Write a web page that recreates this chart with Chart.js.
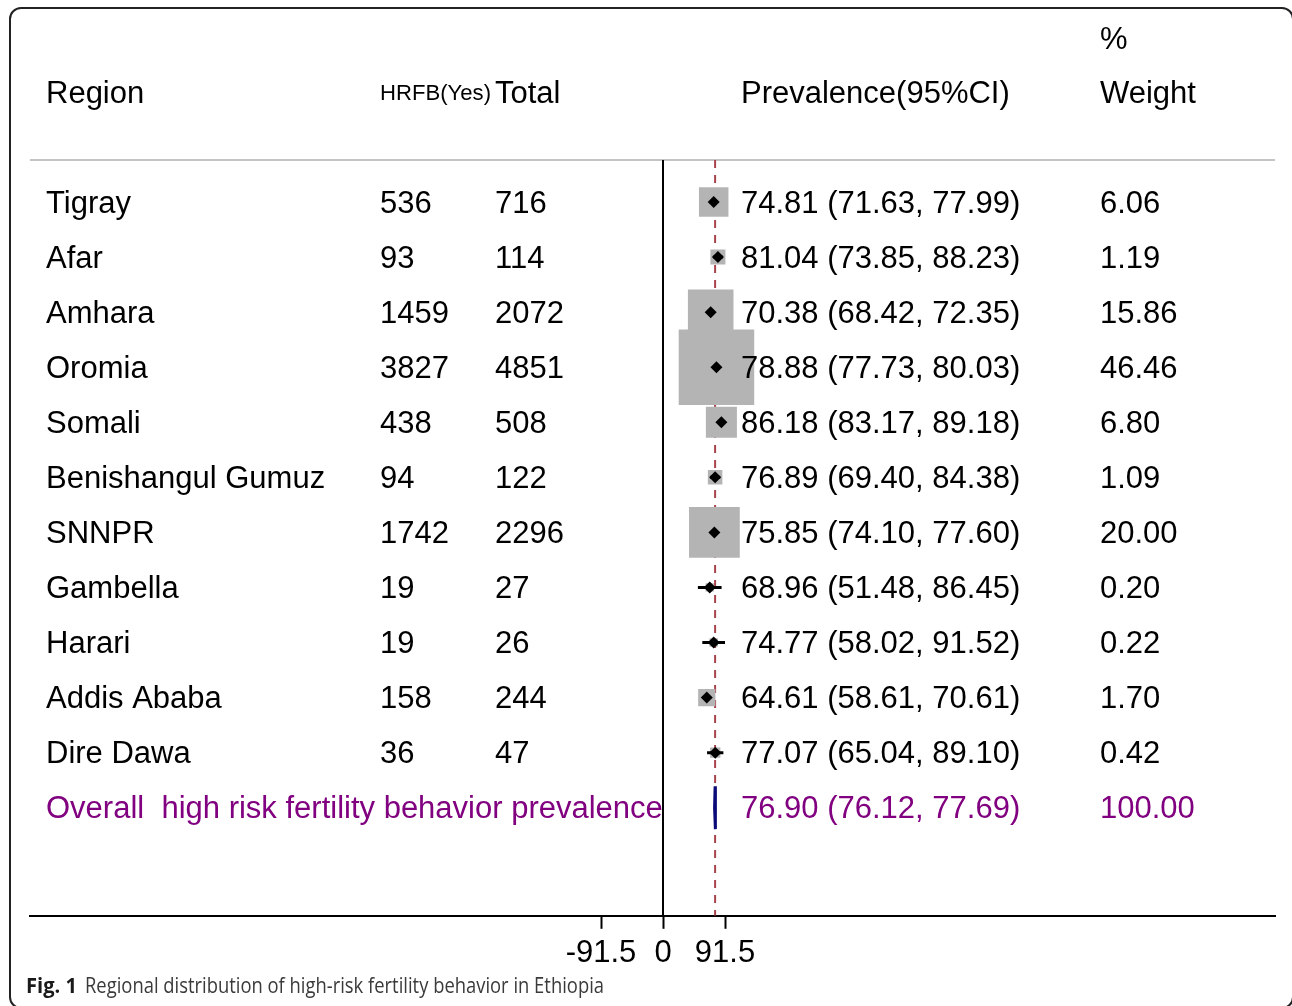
<!DOCTYPE html>
<html>
<head>
<meta charset="utf-8">
<script src="https://cdn.jsdelivr.net/npm/chart.js@4.4.1/dist/chart.umd.min.js"></script>
<style>
  html, body { margin: 0; padding: 0; background: #fff; }
  body { width: 1292px; height: 1006px; position: relative; overflow: hidden; }
  #frame {
    position: absolute; left: 9px; top: 7px; width: 1285px; height: 1002px;
    border: 2px solid #222; border-radius: 12px; box-sizing: border-box;
  }
  #plot { position: absolute; left: 0; top: 0; }
</style>
</head>
<body>
<div id="frame"></div>
<canvas id="plot" width="1292" height="1006"></canvas>
<script>
// Study rows (one per region)
const regions = ['Tigray', 'Afar', 'Amhara', 'Oromia', 'Somali', 'Benishangul Gumuz',
  'SNNPR', 'Gambella', 'Harari', 'Addis Ababa', 'Dire Dawa'];
const hrfbYes = [536, 93, 1459, 3827, 438, 94, 1742, 19, 19, 158, 36];
const totals = [716, 114, 2072, 4851, 508, 122, 2296, 27, 26, 244, 47];
const prevalence = [74.81, 81.04, 70.38, 78.88, 86.18, 76.89, 75.85, 68.96, 74.77, 64.61, 77.07];
const ciLower = [71.63, 73.85, 68.42, 77.73, 83.17, 69.40, 74.10, 51.48, 58.02, 58.61, 65.04];
const ciUpper = [77.99, 88.23, 72.35, 80.03, 89.18, 84.38, 77.60, 86.45, 91.52, 70.61, 89.10];
const weights = [6.06, 1.19, 15.86, 46.46, 6.80, 1.09, 20.00, 0.20, 0.22, 1.70, 0.42];

// Pooled estimate
const overallLabel = 'Overall  high risk fertility behavior prevalence';
const overallEst = 76.90;
const overallLower = 76.12;
const overallUpper = 77.69;
const overallWeight = 100.00;

// Axis ticks and limits
const xTicks = [-91.5, 0, 91.5];
const xMin = -934.2, xMax = 903.2;
const yMin = 0.2364, yMax = 13.9636;

const rows = regions.map((_, i) => i + 1);
const overallRow = regions.length + 1;

const FONT = '"Liberation Sans", Arial, Helvetica, sans-serif';
const BLACK = '#000000';
const PURPLE = '#800080';

// Box side grows with the square root of the study weight
const boxRadius = w => (10.57 * Math.sqrt(w) + 3.47) / Math.SQRT2;

const datasets = [];

// Weighted boxes
datasets.push({
  label: 'weight boxes',
  data: rows.map((r, i) => ({ x: prevalence[i], y: r })),
  pointStyle: 'rect',
  pointRadius: rows.map((_, i) => boxRadius(weights[i])),
  backgroundColor: '#b4b4b4',
  borderWidth: 0,
  order: 3
});

// Confidence intervals
rows.forEach((r, i) => {
  datasets.push({
    label: 'ci ' + regions[i],
    data: [{ x: ciLower[i], y: r }, { x: ciUpper[i], y: r }],
    showLine: true,
    borderColor: BLACK,
    borderWidth: 3,
    pointRadius: 0,
    order: 1
  });
});

// Point estimates
datasets.push({
  label: 'estimates',
  data: rows.map((r, i) => ({ x: prevalence[i], y: r })),
  pointStyle: 'rectRot',
  pointRadius: 6,
  backgroundColor: BLACK,
  borderWidth: 0,
  order: 0
});

// Pooled diamond
const dh = 0.39;
datasets.push({
  label: 'overall',
  data: [
    { x: overallLower, y: overallRow },
    { x: overallEst, y: overallRow - dh },
    { x: overallUpper, y: overallRow },
    { x: overallEst, y: overallRow + dh },
    { x: overallLower, y: overallRow }
  ],
  showLine: true,
  borderColor: '#0a0a78',
  backgroundColor: '#0a0a78',
  fill: true,
  borderWidth: 3,
  pointRadius: 0,
  order: 0
});

// Dashed line at the pooled estimate
datasets.push({
  label: 'pooled line',
  data: [{ x: overallEst, y: yMin }, { x: overallEst, y: yMax }],
  showLine: true,
  borderColor: '#a8434c',
  borderWidth: 2,
  borderDash: [8, 7],
  pointRadius: 0,
  order: 4
});

// Null line
datasets.push({
  label: 'null line',
  data: [{ x: 0, y: yMin }, { x: 0, y: yMax }],
  showLine: true,
  borderColor: BLACK,
  borderWidth: 2,
  pointRadius: 0,
  order: 4
});

const fmt = v => v.toFixed(2);

// Table columns, headers, separator and caption
const tablePlugin = {
  id: 'forestTable',
  beforeDatasetsDraw(chart) {
    const { ctx, chartArea } = chart;
    ctx.save();
    ctx.strokeStyle = '#c4c4c4';
    ctx.lineWidth = 2;
    ctx.beginPath();
    ctx.moveTo(chartArea.left, chartArea.top);
    ctx.lineTo(chartArea.right, chartArea.top);
    ctx.stroke();
    ctx.restore();
  },
  afterDraw(chart) {
    const { ctx } = chart;
    const yScale = chart.scales.y;
    const fitText = (text, x, y, width) => {
      const w = ctx.measureText(text).width;
      ctx.save();
      ctx.translate(x, y);
      ctx.scale(width / w, 1);
      ctx.fillText(text, 0, 0);
      ctx.restore();
    };
    const dy = 2;
    ctx.save();
    ctx.textBaseline = 'middle';
    ctx.textAlign = 'left';
    ctx.fillStyle = BLACK;
    ctx.font = '31px ' + FONT;

    // headers
    ctx.fillText('Region', 46, 92 + dy);
    ctx.fillText('Total', 495, 92 + dy);
    ctx.fillText('Prevalence(95%CI)', 741, 92 + dy);
    ctx.fillText('%', 1100, 38 + dy);
    ctx.fillText('Weight', 1100, 92 + dy);
    ctx.font = '22px ' + FONT;
    fitText('HRFB(Yes)', 380, 92 + dy, 111);

    // study rows
    ctx.font = '31px ' + FONT;
    rows.forEach((r, i) => {
      const y = yScale.getPixelForValue(r) + dy;
      ctx.fillText(regions[i], 46, y);
      ctx.fillText(String(hrfbYes[i]), 380, y);
      ctx.fillText(String(totals[i]), 495, y);
      ctx.fillText(fmt(prevalence[i]) + ' (' + fmt(ciLower[i]) + ', ' + fmt(ciUpper[i]) + ')', 741, y);
      ctx.fillText(fmt(weights[i]), 1100, y);
    });

    // pooled row
    const yo = yScale.getPixelForValue(overallRow) + dy;
    ctx.fillStyle = PURPLE;
    ctx.fillText(overallLabel, 46, yo);
    ctx.fillText(fmt(overallEst) + ' (' + fmt(overallLower) + ', ' + fmt(overallUpper) + ')', 741, yo);
    ctx.fillText(fmt(overallWeight), 1100, yo);

    // caption
    ctx.fillStyle = '#1a1a1a';
    ctx.font = 'bold 22px "Open Sans", ' + FONT;
    fitText('Fig. 1', 26, 987, 51);
    ctx.fillStyle = '#3a3a3a';
    ctx.font = '21px "Open Sans", ' + FONT;
    fitText('Regional distribution of high-risk fertility behavior in Ethiopia', 85, 987, 519);
    ctx.restore();
  }
};

new Chart(document.getElementById('plot'), {
  type: 'scatter',
  data: { datasets },
  plugins: [tablePlugin],
  options: {
    responsive: false,
    devicePixelRatio: 1,
    animation: false,
    events: [],
    layout: { autoPadding: false, padding: { left: 30, right: 17, top: 160, bottom: 28 } },
    plugins: { legend: { display: false }, tooltip: { enabled: false } },
    scales: {
      x: {
        type: 'linear',
        min: xMin,
        max: xMax,
        afterBuildTicks: scale => { scale.ticks = xTicks.map(v => ({ value: v })); },
        afterFit: scale => { scale.paddingLeft = 0; scale.paddingRight = 0; },
        border: { display: true, color: BLACK, width: 2 },
        grid: { drawOnChartArea: false, drawTicks: true, tickLength: 13, tickColor: BLACK, tickWidth: 2 },
        ticks: {
          autoSkip: false,
          maxRotation: 0,
          padding: 6,
          color: BLACK,
          font: { family: FONT, size: 31 },
          callback: v => String(v)
        }
      },
      y: {
        type: 'linear',
        reverse: true,
        min: yMin,
        max: yMax,
        display: false
      }
    }
  }
});
</script>
</body>
</html>
